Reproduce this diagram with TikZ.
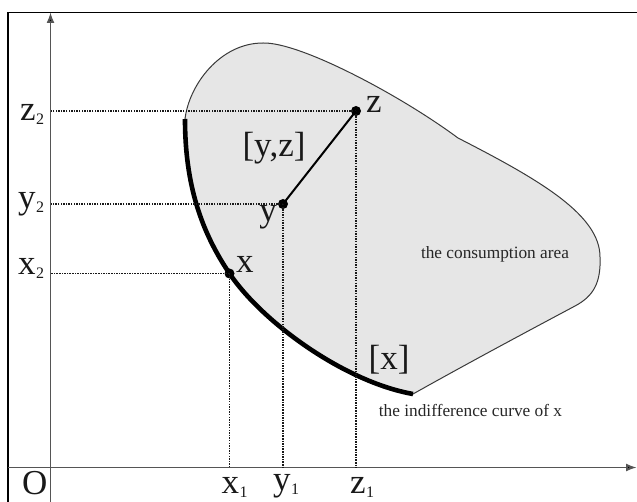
\documentclass[tikz,border=0pt]{standalone}
\usepackage{fontspec}
\setmainfont{Liberation Serif}
\usetikzlibrary{arrows.meta}
\definecolor{regionfill}{HTML}{E6E6E6}
\definecolor{axisgray}{HTML}{555555}
\definecolor{outlinegray}{HTML}{3A3A3A}
\newcommand{\sublbl}[1]{\kern0.5pt\raisebox{-4pt}{\fontsize{16}{16}\selectfont #1}}
\begin{document}
\begin{tikzpicture}[x=1pt,y=-1pt,
  big/.style={font=\fontsize{35}{35}\selectfont, inner sep=0pt, text=black!90},
  small/.style={font=\fontsize{17.3}{17.3}\selectfont, inner sep=0pt, text=black!85},
  guide/.style={draw=black!90, line width=1.2pt, dash pattern=on 1.5pt off 1.1pt},
  dotpt/.style={circle, fill=black, inner sep=0pt, minimum size=10pt},
  axisline/.style={draw=axisgray, line width=1.9pt, -{Latex[length=11pt,width=8pt,fill=black]}}]
\useasboundingbox (0,0) rectangle (637,502);
\clip (0,0) rectangle (637,502);
\draw[line width=1.4pt] (8,12.5) rectangle (660,520);

% consumption area
\filldraw[fill=regionfill, draw=outlinegray, line width=1pt]
  (185,119) .. controls (189,85) and (220,43) .. (263,43)
  .. controls (300,42) and (400,95) .. (458,138)
  .. controls (540,180) and (600,215) .. (600,257)
  .. controls (601,282) and (594,296) .. (575,306)
  .. controls (530,330) and (470,362) .. (413,394)
  .. controls (345,382) and (263,323) .. (229.5,273.5)
  .. controls (201.5,232) and (185,185) .. (185,119) -- cycle;
% indifference curve
\draw[line width=4.6pt, line cap=butt]
  (413,394) .. controls (345,382) and (263,323) .. (229.5,273.5)
  .. controls (201.5,232) and (185,185) .. (185,119);

% axes
\coordinate (ybot) at (50.5,502);
\coordinate (ytop) at (50.5,12);
\coordinate (xleft) at (8,467.5);
\coordinate (xright) at (637,467.5);
\coordinate (O) at (50.5,467.5);
\draw[axisline] (ybot) -- (ytop);
\draw[axisline] (xleft) -- (xright);

% points
\node[dotpt] (z) at (356,111) {};
\node[dotpt] (y) at (283,204) {};
\node[dotpt] (x) at (229.5,273.5) {};

% guides
\foreach \p in {x,y,z}{
  \draw[guide] (\p.center) -- (\p.center -| O);
  \draw[guide] (\p.center) -- (\p.center |- O);
}
\draw[line width=2pt] (y.center) -- (z.center);

% labels
\node[big, anchor=base west] (lz) at (366,113) {z};
\node[big, anchor=base] (ly) at (268,222) {y};
\node[big, anchor=base west] (lx) at (236,273) {x};
\node[big, anchor=base] (lyz) at (274,157) {[y,z]};
\node[big, anchor=base] (lxx) at (389,370) {[x]};
\node[small, anchor=base] (lca) at (495,259) {the consumption area};
\node[small, anchor=base] (lic) at (470.5,416) {the indifference curve of x};

\node[big, anchor=base west] (lz2) at (20,121) {z\sublbl{2}};
\node[big, anchor=base west] (ly2) at (18,209) {y\sublbl{2}};
\node[big, anchor=base west] (lx2) at (18,275) {x\sublbl{2}};
\node[big, anchor=base west] (lO) at (22,494.5) {O};
\node[big, anchor=base west] (lx1) at (221.5,493) {x\sublbl{1}};
\node[big, anchor=base west] (ly1) at (273,490) {y\sublbl{1}};
\node[big, anchor=base west] (lz1) at (350,493) {z\sublbl{1}};
\end{tikzpicture}
\end{document}
